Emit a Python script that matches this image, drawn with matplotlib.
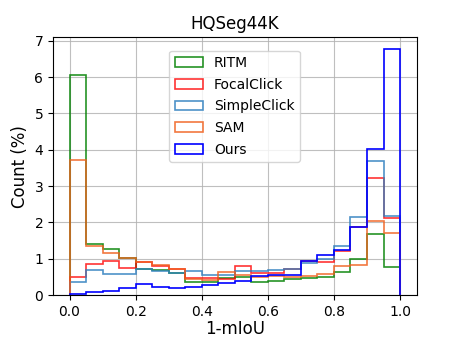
import numpy as np
import matplotlib
matplotlib.use("Agg")
import matplotlib.pyplot as plt

# histogram values per bin (%), 20 bins of width 0.05 over 1-mIoU
bin_edges = np.linspace(0, 1, 21)
ritm = [6.05, 1.41, 1.28, 1.01, 0.72, 0.68, 0.60, 0.37, 0.37, 0.47,
        0.51, 0.37, 0.38, 0.43, 0.48, 0.50, 0.63, 1.00, 1.68, 0.77]
focalclick = [0.51, 0.86, 0.95, 0.74, 0.91, 0.81, 0.73, 0.47, 0.47, 0.45,
              0.81, 0.62, 0.61, 0.73, 0.94, 0.91, 1.21, 1.88, 3.22, 2.11]
simpleclick = [0.37, 0.70, 0.57, 0.57, 0.71, 0.66, 0.60, 0.66, 0.55, 0.54,
               0.67, 0.67, 0.70, 0.73, 0.87, 0.99, 1.35, 2.14, 3.69, 2.19]
sam = [3.71, 1.35, 1.16, 1.01, 0.92, 0.83, 0.71, 0.43, 0.42, 0.63,
       0.55, 0.50, 0.52, 0.51, 0.52, 0.59, 0.81, 0.84, 2.04, 1.70]
ours = [0.02, 0.08, 0.11, 0.19, 0.31, 0.21, 0.19, 0.23, 0.28, 0.34,
        0.39, 0.52, 0.55, 0.55, 0.94, 1.09, 1.23, 1.88, 4.01, 6.76]

names = ['RITM', 'FocalClick', 'SimpleClick', 'SAM', 'Ours']
series = [ritm, focalclick, simpleclick, sam, ours]
colors = ['green', 'red', '#2f7fbf', '#f0601e', 'blue']
alphas = [0.85, 0.8, 0.85, 0.85, 1.0]

centers = (bin_edges[:-1] + bin_edges[1:]) / 2

fig = plt.figure(figsize=(4.55, 3.38), dpi=100)
ax = fig.add_axes([0.1165, 0.127, 0.799, 0.763])

for vals, name, c, a in zip(series, names, colors, alphas):
    ax.hist(centers, bins=bin_edges, weights=vals, histtype='step',
            color=c, alpha=a, linewidth=1.2, label=name)

ax.grid(True, color='#b0b0b0', linewidth=0.8, alpha=0.8)
ax.set_axisbelow(True)
ax.set_title('HQSeg44K', fontsize=12)
ax.set_xlabel('1-mIoU', fontsize=12, labelpad=1)
ax.set_ylabel('Count (%)', fontsize=12)
ax.tick_params(labelsize=10)
ax.legend(loc='upper center', bbox_to_anchor=(0.5, 0.975), fontsize=10,
          labelspacing=0.55)

fig.savefig('out.png', dpi=100)
